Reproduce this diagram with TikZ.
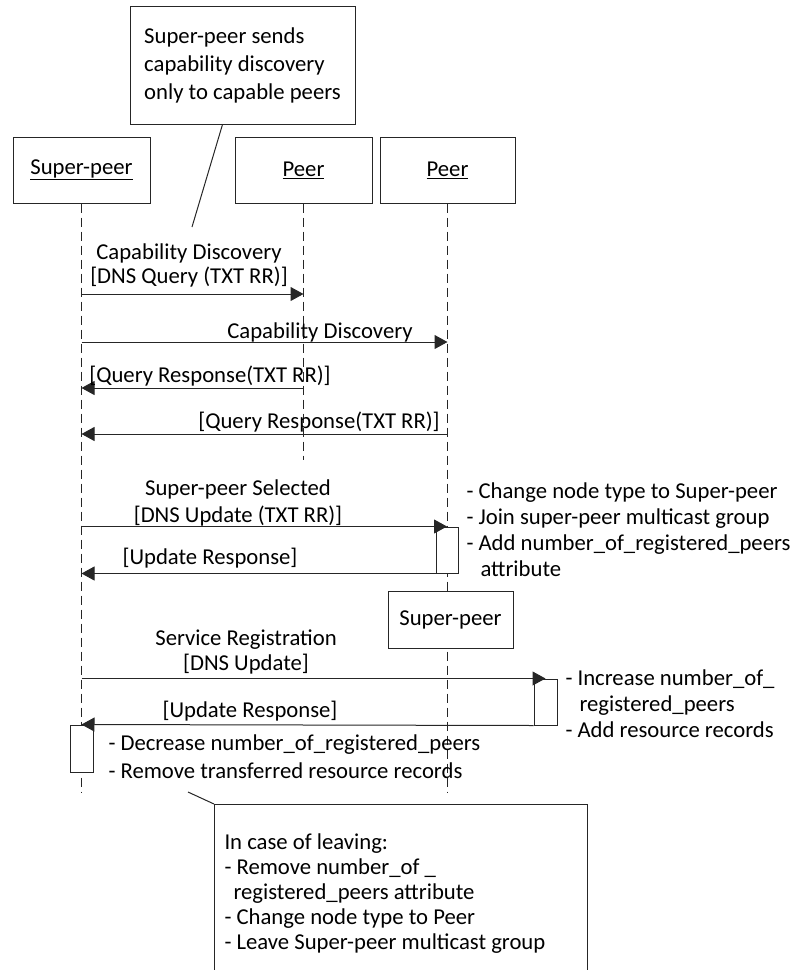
\documentclass[tikz,border=0pt]{standalone}
\usepackage{fontspec}
\setmainfont{Carlito}
\usetikzlibrary{arrows.meta,positioning}

\begin{document}
\begin{tikzpicture}[x=1pt, y=-1pt, line width=1pt, draw=black!85,
    every node/.style={font=\fontsize{22.7}{26}\selectfont},
    head/.style={draw, minimum width=137pt, minimum height=66pt, inner sep=0pt},
    life/.style={dash pattern=on 9pt off 5pt},
    msg/.style={-{Triangle[length=13pt, width=14pt]}},
    act/.style={draw, fill=white, minimum width=23pt, inner sep=0pt},
    lbl/.style={inner sep=0pt, align=center, anchor=base},
    txt/.style={inner sep=0pt, align=left, anchor=base west}]
    \useasboundingbox (0,0) rectangle (795,970);
    \clip (0,0) rectangle (795,970);

    % Lifeline heads
    \node[head] (sp) at (81.5,170) {\underline{Super-peer}};
    \node[head] (pa) at (303.5,170) {\underline{Peer}};
    \node[head, minimum width=135pt] (pb) at (447.5,170) {\underline{Peer}};

    % Rows of the messages
    \coordinate (r1) at (0,294);
    \coordinate (r2) at (0,342);
    \coordinate (r3) at (0,388);
    \coordinate (r4) at (0,434);
    \coordinate (paend) at (0,460);
    \coordinate (bot) at (0,793);

    % Lifelines
    \draw[life] (sp.south) -- (sp |- bot);
    \draw[life] (pa.south) -- (pa |- paend);
    \draw[life] (pb.south) -- (pb |- bot);

    % Activations and the promoted super-peer
    \node[act, minimum height=46pt, minimum width=22pt] (a1) at (447,550) {};
    \node[draw, fill=white, minimum width=125pt, minimum height=57pt, inner sep=0pt] (newsp) at (450.5,619.5) {Super-peer};
    \node[act, minimum height=46pt] (a2) at (545.5,702) {};
    \node[act, minimum height=47pt] (a3) at (81.5,748.5) {};

    % Note on top (base of a multi-line node = its last line)
    \node[draw, minimum width=225pt, minimum height=118pt, align=left,
          font=\fontsize{22.7}{28}\selectfont] (note) at (242.5,65)
          {Super-peer sends\\capability discovery\\only to capable peers};
    \coordinate (notetip) at (192,227);
    \draw (note.south west) ++(93,0) -- (notetip);

    % Messages
    \draw[msg] (sp |- r1) -- (pa |- r1);
    \draw[msg] (sp |- r2) -- (pb |- r2);
    \draw[msg] (pa |- r3) -- (sp |- r3);
    \draw[msg] (pb |- r4) -- (sp |- r4);
    \draw[msg] (sp |- a1.north) -- (a1.north);
    \draw[msg] (a1.south west) -- (sp |- a1.south);
    \draw[msg] (sp |- a2.north) -- (a2.north);
    \draw[msg] (a2.south west) -- (a3.north);

    % Message labels
    \node[lbl, font=\fontsize{22.7}{24}\selectfont] (l1) at (189,283) {Capability Discovery\\{[DNS Query (TXT RR)]}};
    \node[lbl] (l2) at (320,338) {Capability Discovery};
    \node[lbl] (l3) at (210,382) {[Query Response(TXT RR)]};
    \node[lbl] (l4) at (319,428) {[Query Response(TXT RR)]};
    \node[lbl, font=\fontsize{22.7}{27}\selectfont] (l5) at (238,522) {Super-peer Selected\\{[DNS Update (TXT RR)]}};
    \node[lbl] (l6) at (210,564) {[Update Response]};
    \node[lbl, font=\fontsize{22.7}{25}\selectfont] (l7) at (246,670) {Service Registration\\{[DNS Update]}};
    \node[lbl] (l8) at (250,717) {[Update Response]};

    % Actions
    \node[txt] (promote) at (466,576) {- Change node type to Super-peer\\- Join super-peer multicast group\\- Add number\_of\_registered\_peers\\\hspace*{14pt}attribute};
    \node[txt] (register) at (565,737) {- Increase number\_of\_\\\hspace*{14pt}registered\_peers\\- Add resource records};
    \node[txt, font=\fontsize{22.7}{28}\selectfont] (transfer) at (108,778) {- Decrease number\_of\_registered\_peers\\- Remove transferred resource records};

    % Note at the bottom
    \node[draw, anchor=north west, minimum width=373pt, minimum height=220pt, inner sep=0pt] (leavebox) at (214,804) {};
    \node[txt, font=\fontsize{22.7}{25}\selectfont] (leave) at (224,949) {In case of leaving:\\- Remove number\_of \_\\\hspace*{9pt}registered\_peers attribute\\- Change node type to Peer\\- Leave Super-peer multicast group};
    \coordinate (leavetip) at (188,792);
    \draw (leavebox.north west) -- (leavetip);
\end{tikzpicture}
\end{document}
